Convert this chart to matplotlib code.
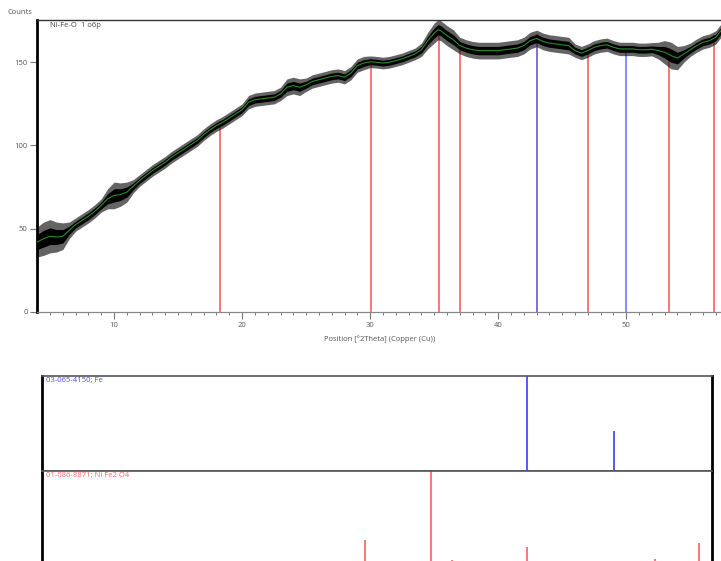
import numpy as np
from matplotlib import pyplot as plt
from matplotlib.ticker import MultipleLocator

# measured pattern: smoothed counts and half-width of the noise band
two_theta = [4.0, 4.5, 5.0, 5.5, 6.0, 6.5, 7.0, 7.5, 8.0, 8.5, 9.0, 9.5, 10.0, 10.5, 11.0,
             11.5, 12.0, 12.5, 13.0, 13.5, 14.0, 14.5, 15.0, 15.5, 16.0, 16.5, 17.0, 17.5,
             18.0, 18.5, 19.0, 19.5, 20.0, 20.5, 21.0, 21.5, 22.0, 22.5, 23.0, 23.5, 24.0,
             24.5, 25.0, 25.5, 26.0, 26.5, 27.0, 27.5, 28.0, 28.5, 29.0, 29.5, 30.0, 30.5,
             31.0, 31.5, 32.0, 32.5, 33.0, 33.5, 34.0, 34.5, 35.0, 35.3, 35.5, 36.0, 36.5,
             37.0, 37.5, 38.0, 38.5, 39.0, 39.5, 40.0, 40.5, 41.0, 41.5, 42.0, 42.5, 43.0,
             43.5, 44.0, 44.5, 45.0, 45.5, 46.0, 46.5, 47.0, 47.5, 48.0, 48.5, 49.0, 49.5,
             50.0, 50.5, 51.0, 51.5, 52.0, 52.5, 53.0, 53.5, 54.0, 54.5, 55.0, 55.5, 56.0,
             56.5, 57.0, 57.5]
counts = [42, 44, 45.5, 45, 45.5, 49, 52.5, 55, 57.5, 60.5, 64, 68, 70, 70.5, 72,
          75.5, 79, 82, 85, 87.5, 90, 93, 95.5, 98, 100.5, 103, 106.5, 109.5,
          112, 114, 116.5, 119, 121.5, 126, 127.5, 128, 128.5, 129, 131, 135, 136,
          135, 136.5, 138.5, 139.5, 140.5, 141.5, 142, 141, 143.5, 148, 149.5, 150.3, 150,
          149.5, 150, 151, 152, 153.5, 155, 157.5, 163, 167.5, 169.5, 169, 166, 163.5,
          160, 158.5, 157.5, 157, 157, 157, 157, 157.5, 158, 158.5, 160, 163, 164.3,
          162.5, 161.5, 161, 160.5, 160, 157, 155.5, 157, 159, 160, 160.5, 159, 158,
          158, 158, 157.5, 157.5, 157.8, 157, 156, 154, 152.5, 155, 157.5, 160, 162,
          163, 165, 170]
noise = [9, 10, 10, 9, 8, 5, 4, 4, 4, 4, 4, 6, 8, 7, 6,
         4, 3.5, 3.5, 3.5, 3.5, 3.5, 3.5, 3.5, 3.5, 3.5, 3.5, 3.5, 3.5,
         3.5, 3.5, 3.5, 3.5, 3.5, 4, 4, 4, 4, 4, 4, 5, 5,
         5, 4, 4, 4, 4, 4, 4, 4, 4, 4, 4, 3.5, 3.5,
         3.5, 3.5, 3.5, 3.5, 3.5, 3.5, 4, 5, 6, 6, 6, 6, 6,
         5, 5, 5, 5, 5, 5, 5, 5, 5, 5, 5, 5, 5,
         5, 5, 5, 5, 5, 4, 4, 4, 4, 4, 4, 4, 4,
         4, 4, 4, 4, 4, 5, 7, 8, 7, 5, 4, 4, 4,
         4, 4, 4]

# reference cards: stick positions and relative intensities
fe_card = '03-065-4150; Fe'
fe_pos = [43.0, 50.0]
fe_int = [100, 42]
nife_card = '01-086-8871; Ni Fe2 O4'
nife_pos = [18.3, 30.05, 35.4, 37.03, 43.03, 47.0, 53.3, 56.83]
nife_int = [6, 28, 100, 7, 20, 1.5, 7.5, 25]

RED = '#ff6a6a'
BLUE = '#6a6aff'

plt.rcParams['font.family'] = ['Open Sans', 'DejaVu Sans']

fig = plt.figure(figsize=(7.21, 5.61), dpi=100)

# --- measured scan ---
ax = fig.add_axes([0.052, 0.4439, 0.948, 0.5205])
tt = np.array(two_theta)
cc = np.array(counts)
nn = np.array(noise)
# outer part of the noise and the dense core
ax.fill_between(tt, cc - nn, cc + nn, color='#222222', lw=0, alpha=0.7, zorder=2)
ax.fill_between(tt, cc - nn * 0.5, cc + nn * 0.5, color='black', lw=0, zorder=2)
ax.plot(tt, cc, color='#2a8a2a', lw=0.8, zorder=3)

top_fe = np.interp(fe_pos, tt, cc)
top_ni = np.interp(nife_pos, tt, cc + nn * 0.5)
ax.vlines(nife_pos, 0, top_ni, color=RED, lw=1.3, zorder=1)
ax.vlines(fe_pos, 0, top_fe, color=BLUE, lw=1.1, zorder=1.5)

ax.set_xlim(4.02, 57.4)
ax.set_ylim(0, 175.4)
ax.xaxis.set_major_locator(MultipleLocator(10))
ax.xaxis.set_minor_locator(MultipleLocator(1))
ax.set_yticks([0, 50, 100, 150])
ax.tick_params(axis='both', which='major', direction='out', length=5, width=0.8,
               color='#777777', labelcolor='#555555', labelsize=5.5, pad=2)
ax.tick_params(axis='x', which='minor', direction='out', length=2.2, width=0.7,
               color='#777777')
ax.set_xlabel('Position [°2Theta] (Copper (Cu))', fontsize=5.5, color='#555555', labelpad=5)
ax.spines['right'].set_visible(False)
ax.spines['left'].set_linewidth(2)
ax.spines['left'].set_color('black')
ax.spines['bottom'].set_color('#888888')
ax.spines['bottom'].set_linewidth(0.9)
ax.spines['top'].set_color('#333333')
ax.spines['top'].set_linewidth(1)
ax.text(0.018, 0.993, 'Ni-Fe-O  1 o6p', transform=ax.transAxes, ha='left', va='top',
        fontsize=5.5, color='#444444')
fig.text(0.011, 0.977, 'Counts', ha='left', va='center', fontsize=5.5, color='#555555')

# --- stick patterns ---
def stick_pane(rect, pos, heights, color, label):
    sp = fig.add_axes(rect)
    sp.vlines(pos, 0, heights, color=color, lw=1.3)
    sp.set_xlim(4.23, 57.87)
    sp.set_ylim(0, 100)
    sp.set_xticks([])
    sp.set_yticks([])
    for side in ('left', 'right'):
        sp.spines[side].set_linewidth(2)
        sp.spines[side].set_color('black')
    for side in ('top', 'bottom'):
        sp.spines[side].set_linewidth(1.2)
        sp.spines[side].set_color('#555555')
    sp.text(0.006, 0.985, label, transform=sp.transAxes, ha='left', va='top',
            fontsize=5.5, color=color)
    return sp

stick_pane([0.0578, 0.1604, 0.9304, 0.1699], fe_pos, fe_int, '#4a4aff', fe_card)
stick_pane([0.0578, -0.0095, 0.9304, 0.1699], nife_pos, nife_int, RED, nife_card)

fig.savefig('out.png', dpi=100)
